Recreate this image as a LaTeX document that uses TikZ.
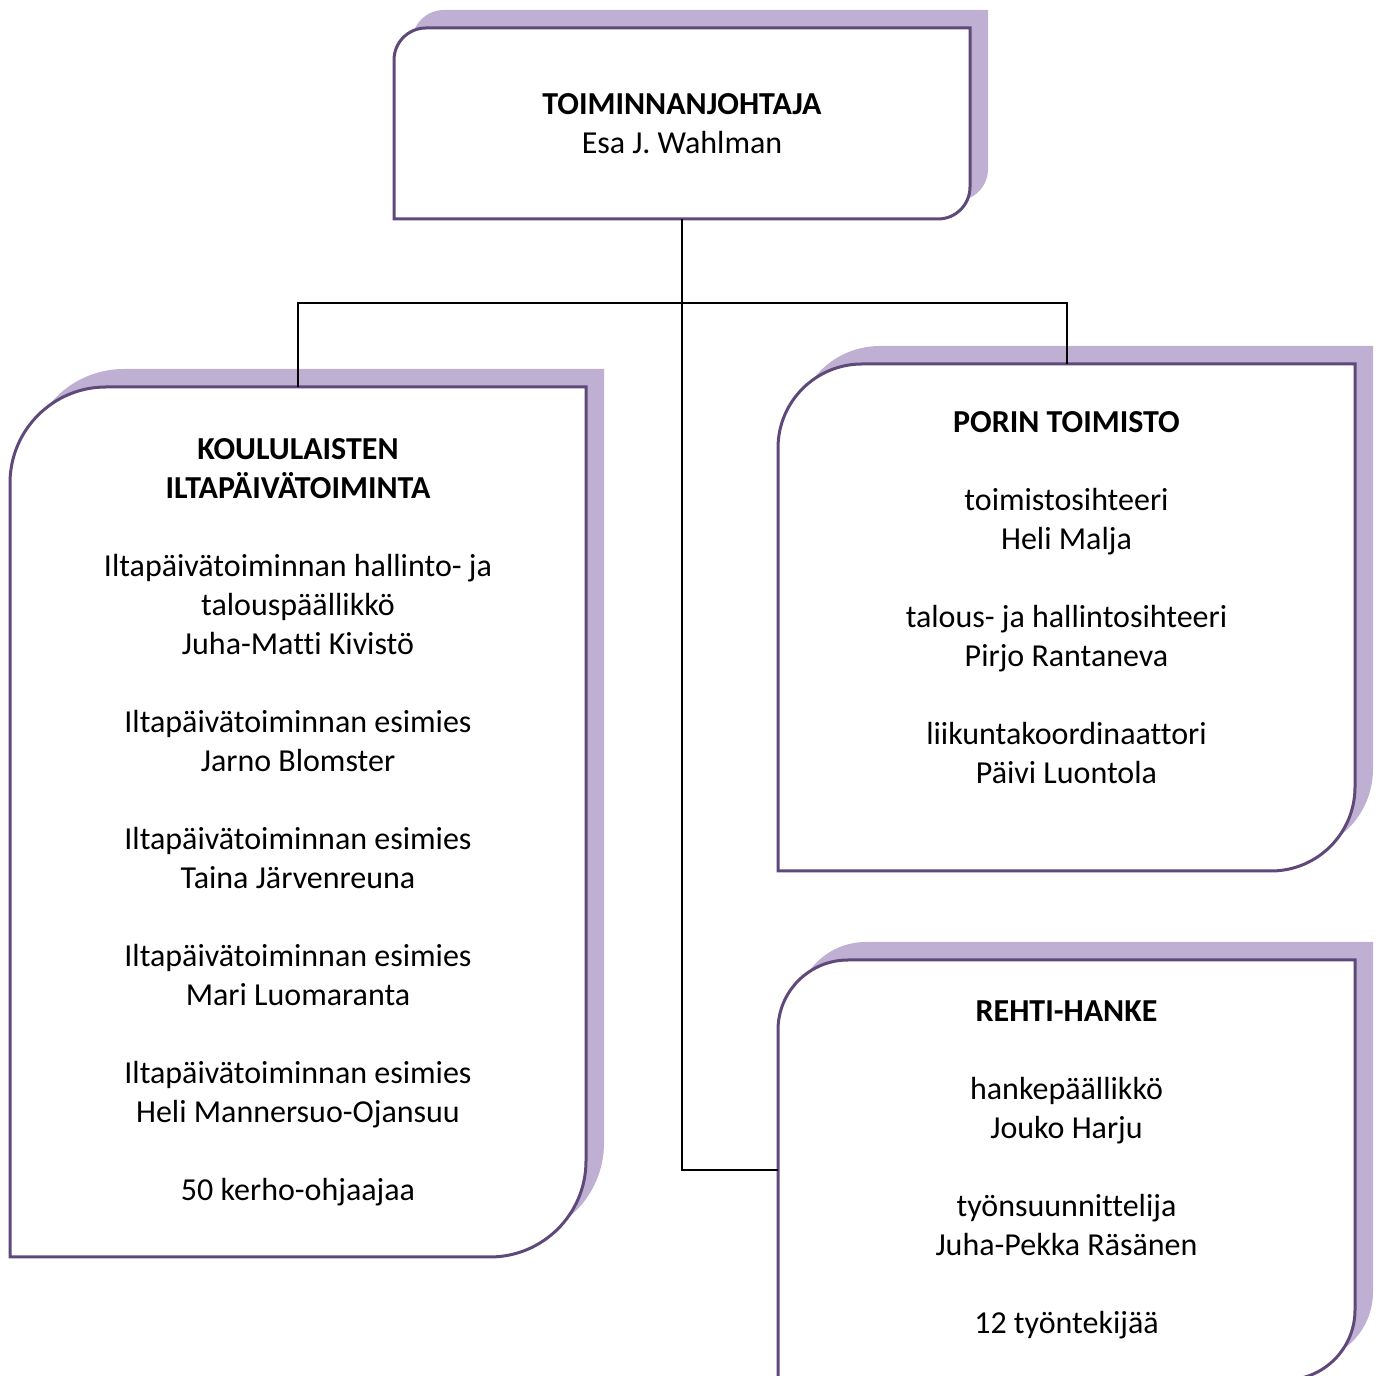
\documentclass[tikz,border=0pt]{standalone}
\usepackage{fontspec}
\setmainfont[Ligatures=NoCommon]{Carlito}
\usepackage{tikz}
\usetikzlibrary{positioning, backgrounds}

\definecolor{reunavari}{HTML}{5F497A}
\definecolor{varjovari}{HTML}{BFB0D3}

\tikzset{
  laatikko/.style={draw=none, align=center, inner sep=0pt, outer sep=0pt, font=\fontsize{16}{19.5}\selectfont},
  yhteys/.style={draw=black, line width=1pt},
  varjo/.style={fill=varjovari, draw=none},
  reuna/.style={draw=reunavari, fill=white, line width=1.5pt},
}

% box with round top-left and bottom-right corners, shadow up and right
\newcommand{\kulmalaatikko}[2]{%
  \begin{pgfonlayer}{background}
  \fill[varjo] ([shift={(9pt,9pt)}]#1.south west) -- ([shift={(9pt,9pt)},yshift=-#2]#1.north west)
    arc[start angle=180, end angle=90, radius=#2] -- ([shift={(9pt,9pt)}]#1.north east)
    -- ([shift={(9pt,9pt)},yshift=#2]#1.south east)
    arc[start angle=0, end angle=-90, radius=#2] -- cycle;
  \filldraw[reuna] (#1.south west) -- ([yshift=-#2]#1.north west)
    arc[start angle=180, end angle=90, radius=#2] -- (#1.north east)
    -- ([yshift=#2]#1.south east)
    arc[start angle=0, end angle=-90, radius=#2] -- cycle;
  \end{pgfonlayer}}

\begin{document}
\begin{tikzpicture}
\useasboundingbox (0,0) rectangle (691pt,688pt);

% Nodes
\node[laatikko, minimum width=288pt, minimum height=95.5pt] (johtaja) at (341pt,626.25pt)
  {\textbf{TOIMINNANJOHTAJA}\\ Esa J. Wahlman};
\node[laatikko, minimum width=288pt, minimum height=435pt] (iltapaiva) at (149pt,277pt)
  {\textbf{KOULULAISTEN}\\ \textbf{ILTAPÄIVÄTOIMINTA}\\[19.5pt]
   Iltapäivätoiminnan hallinto- ja\\ talouspäällikkö\\ Juha-Matti Kivistö\\[19.5pt]
   Iltapäivätoiminnan esimies\\ Jarno Blomster\\[19.5pt]
   Iltapäivätoiminnan esimies\\ Taina Järvenreuna\\[19.5pt]
   Iltapäivätoiminnan esimies\\ Mari Luomaranta\\[19.5pt]
   Iltapäivätoiminnan esimies\\ Heli Mannersuo-Ojansuu\\[19.5pt]
   50 kerho-ohjaajaa};
\node[laatikko, minimum width=288.5pt, minimum height=253.5pt] (toimisto) at (533.25pt,379.25pt)
  {\textbf{PORIN TOIMISTO}\\[19.5pt]
   toimistosihteeri\\ Heli Malja\\[19.5pt]
   talous- ja hallintosihteeri\\ Pirjo Rantaneva\\[19.5pt]
   liikuntakoordinaattori\\ Päivi Luontola\\ \mbox{}};
\node[laatikko, minimum width=288.5pt, minimum height=210pt, below=44.5pt of toimisto] (rehti)
  {\textbf{REHTI-HANKE}\\[19.5pt]
   hankepäällikkö\\ Jouko Harju\\[19.5pt]
   työnsuunnittelija\\ Juha-Pekka Räsänen\\[19.5pt]
   12 työntekijää};

\kulmalaatikko{johtaja}{16pt}
\kulmalaatikko{iltapaiva}{48pt}
\kulmalaatikko{toimisto}{42pt}
\kulmalaatikko{rehti}{35pt}

% Edges
\coordinate (haara) at ([yshift=-42pt]johtaja.south);
\draw[yhteys] (johtaja.south) -- (haara);
\draw[yhteys] (haara) -| (iltapaiva.north);
\draw[yhteys] (haara) -| (toimisto.north);
\draw[yhteys] (haara) |- (rehti.west);
\end{tikzpicture}
\end{document}
